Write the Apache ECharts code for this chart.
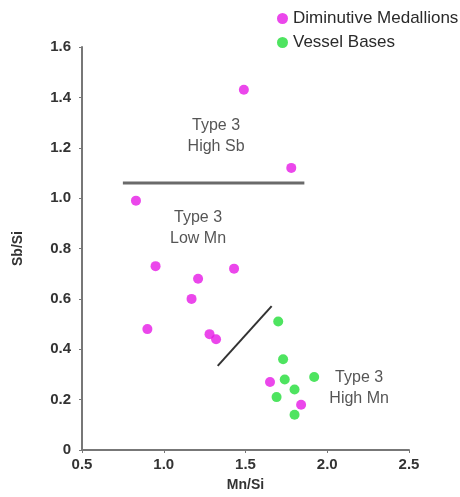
<!DOCTYPE html>
<html>
<head>
<meta charset="utf-8">
<script src="https://cdn.jsdelivr.net/npm/echarts@6/dist/echarts.min.js"></script>
<style>
html,body{margin:0;padding:0;background:#fff;}
#chart{width:460px;height:497px;}
</style>
</head>
<body>
<div id="chart"></div>
<script>
// Data
var medallions = [
  [1.49, 1.43], [1.78, 1.12], [0.83, 0.99], [0.95, 0.73], [1.21, 0.68],
  [1.43, 0.72], [1.17, 0.60], [0.90, 0.48], [1.28, 0.46], [1.32, 0.44],
  [1.65, 0.27], [1.84, 0.18]
];
var vesselBases = [
  [1.70, 0.51], [1.73, 0.36], [1.74, 0.28], [1.92, 0.29], [1.80, 0.24],
  [1.69, 0.21], [1.80, 0.14]
];
var lineHighSb = [[0.75, 1.06], [1.86, 1.06]];
var lineHighMn = [[1.33, 0.334], [1.66, 0.571]];
var annotations = [
  { name: 'Type 3\nHigh Sb', value: [1.32, 1.247] },
  { name: 'Type 3\nLow Mn', value: [1.21, 0.88] },
  { name: 'Type 3\nHigh Mn', value: [2.195, 0.247] }
];
var xTicks = { min: 0.5, max: 2.5, interval: 0.5 };
var yTicks = { min: 0, max: 1.6, interval: 0.2 };
var seriesNames = ['Diminutive Medallions', 'Vessel Bases'];

var FONT = 'Liberation Sans, Arial, sans-serif';
var chart = echarts.init(document.getElementById('chart'));
chart.setOption({
  backgroundColor: '#ffffff',
  animation: false,
  textStyle: { fontFamily: FONT },
  grid: { left: 82, right: 51, top: 47, bottom: 45, containLabel: false },
  legend: {
    data: seriesNames,
    orient: 'vertical',
    left: 272,
    top: 5,
    itemWidth: 11,
    itemHeight: 11,
    itemGap: 7,
    icon: 'circle',
    textStyle: { fontFamily: FONT, fontSize: 17, color: '#2a2a2a' }
  },
  xAxis: {
    type: 'value',
    min: xTicks.min, max: xTicks.max, interval: xTicks.interval,
    name: 'Mn/Si', nameLocation: 'middle', nameGap: 28,
    nameTextStyle: { fontFamily: FONT, fontSize: 14, fontWeight: 'bold', color: '#333' },
    axisLine: { show: true, lineStyle: { color: '#777', width: 2 } },
    axisTick: { show: true, length: 3, lineStyle: { color: '#777' } },
    axisLabel: { fontFamily: FONT, fontSize: 15, fontWeight: 'bold', color: '#333', margin: 7,
      formatter: function (v) { return v.toFixed(1); } },
    splitLine: { show: false }
  },
  yAxis: {
    type: 'value',
    min: yTicks.min, max: yTicks.max, interval: yTicks.interval,
    name: 'Sb/Si', nameLocation: 'middle', nameGap: 57,
    nameTextStyle: { fontFamily: FONT, fontSize: 14, fontWeight: 'bold', color: '#333' },
    axisLine: { show: true, onZero: false, lineStyle: { color: '#777', width: 2 } },
    axisTick: { show: true, length: 3, lineStyle: { color: '#777' } },
    axisLabel: { fontFamily: FONT, fontSize: 15, fontWeight: 'bold', color: '#333', margin: 11,
      formatter: function (v) { return v === 0 ? '0' : v.toFixed(1); } },
    splitLine: { show: false }
  },
  series: [
    {
      name: seriesNames[0], type: 'scatter', data: medallions,
      symbolSize: 10, itemStyle: { color: '#e619e6' }, z: 5
    },
    {
      name: seriesNames[1], type: 'scatter', data: vesselBases,
      symbolSize: 10, itemStyle: { color: '#22dd38' }, z: 5
    },
    {
      name: 'lineHighSb', type: 'line', data: lineHighSb, symbol: 'none', silent: true,
      lineStyle: { color: '#6a6a6a', width: 3 }
    },
    {
      name: 'lineHighMn', type: 'line', data: lineHighMn, symbol: 'none', silent: true,
      lineStyle: { color: '#333', width: 2 }
    },
    {
      name: 'annotations', type: 'scatter', data: annotations, symbolSize: 0, silent: true,
      label: {
        show: true, position: 'inside',
        formatter: function (p) { return p.name; },
        fontFamily: FONT, fontSize: 16, lineHeight: 21, color: '#2a2a2a', align: 'center'
      }
    }
  ]
});
</script>
</body>
</html>
